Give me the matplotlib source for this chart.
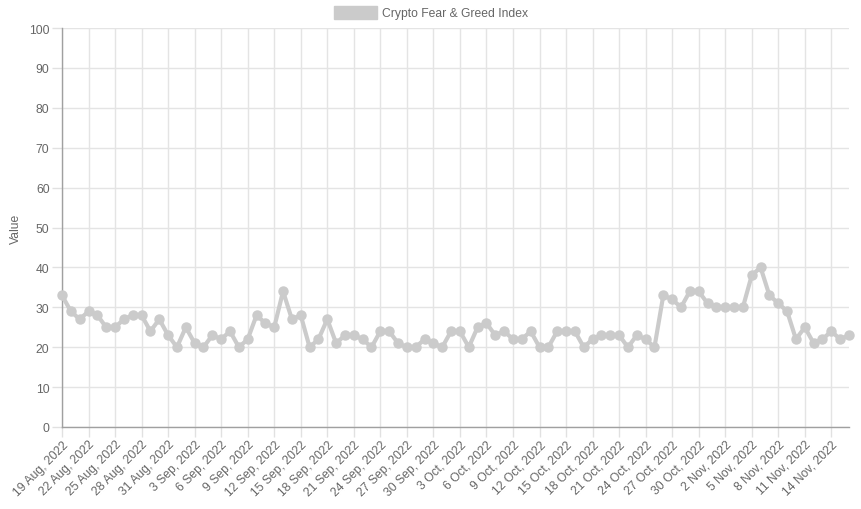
import matplotlib.pyplot as plt
import matplotlib.patches as mpatches
import pandas as pd

plt.rcParams['font.family'] = ['Liberation Sans', 'DejaVu Sans']

# daily index values, 19 Aug 2022 .. 16 Nov 2022
values = [33, 29, 27, 29, 28, 25, 25, 27, 28, 28, 24, 27, 23, 20, 25, 21, 20, 23, 22, 24,
          20, 22, 28, 26, 25, 34, 27, 28, 20, 22, 27, 21, 23, 23, 22, 20, 24, 24, 21, 20,
          20, 22, 21, 20, 24, 24, 20, 25, 26, 23, 24, 22, 22, 24, 20, 20, 24, 24, 24, 20,
          22, 23, 23, 23, 20, 23, 22, 20, 33, 32, 30, 34, 34, 31, 30, 30, 30, 30, 38, 40,
          33, 31, 29, 22, 25, 21, 22, 24, 22, 23]
start_date = "2022-08-19"
series_name = "Crypto Fear & Greed Index"

dates = pd.date_range(start_date, periods=len(values), freq="D")
x = list(range(len(values)))
tick_pos = x[::3]
tick_labels = [f"{d.day} {d.strftime('%b')}, {d.year}" for d in dates[::3]]

W, H = 861, 510
fig = plt.figure(figsize=(W / 100, H / 100), dpi=100)
left, right, top, bottom = 62, 849, 29, 428
ax = fig.add_axes([left / W, 1 - bottom / H, (right - left) / W, (bottom - top) / H])

line_col = "#cbcbcb"
ax.plot(x, values, color=line_col, lw=3, marker="o", ms=6.5, mfc=line_col, mec=line_col,
        clip_on=False, zorder=3)

ax.set_xlim(0, len(values) - 1)
ax.set_ylim(0, 100)
ax.set_yticks(range(0, 101, 10))
ax.set_xticks(tick_pos)
ax.set_xticklabels(tick_labels, rotation=45, ha="right", rotation_mode="anchor")

txt = "#666666"
ax.tick_params(axis="both", colors="#e1e1e1", labelcolor=txt, labelsize=8.7, length=7, width=1)
ax.tick_params(axis="x", pad=1)
ax.tick_params(axis="y", pad=2)
ax.grid(True, color="#e4e4e4", lw=1)
ax.set_axisbelow(True)
for s in ["top", "right"]:
    ax.spines[s].set_visible(False)
for s in ["left", "bottom"]:
    ax.spines[s].set_color("#a0a0a0")
    ax.spines[s].set_linewidth(1)

ax.set_ylabel("Value", color=txt, fontsize=8.7)
ax.yaxis.set_label_coords(-40 / (right - left), 0.5)

# legend drawn at the top center
fig.patches.append(mpatches.Rectangle((334 / W, 1 - 20 / H), 43 / W, 13 / H,
                                      transform=fig.transFigure, color=line_col))
fig.text(382 / W, 1 - 13.5 / H, series_name, color=txt, fontsize=8.7, va="center", ha="left")

fig.savefig("out.png", dpi=100)
